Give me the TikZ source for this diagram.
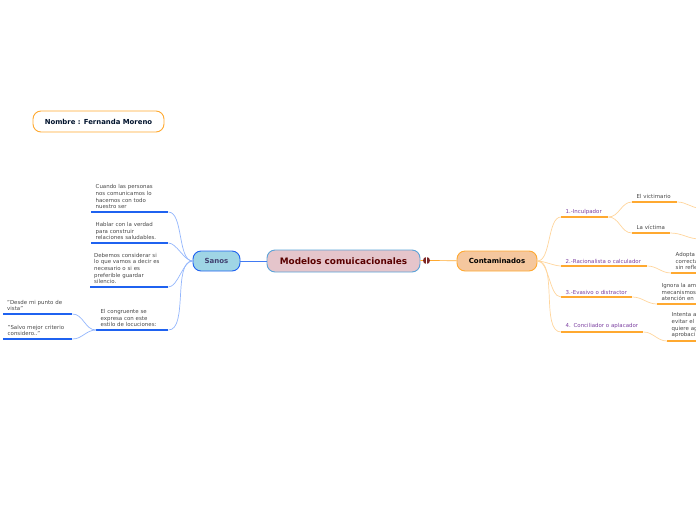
\documentclass[tikz,border=0pt]{standalone}
\usepackage{fontspec}
\setmainfont{DejaVu Sans}
\definecolor{bluedark}{HTML}{1F62F0}
\definecolor{bluelight}{HTML}{93B6FC}
\definecolor{orangedark}{HTML}{FFA930}
\definecolor{orangelight}{HTML}{FFD59C}
\definecolor{purpletxt}{HTML}{7B3FA0}
\definecolor{sanosfill}{HTML}{9FD5E5}
\definecolor{contafill}{HTML}{F5C79E}
\definecolor{centralfill}{HTML}{E5C5CB}
\definecolor{centralline}{HTML}{5BA3D8}
\tikzset{
  mainbox/.style={rectangle,rounded corners=8pt,line width=0.9pt,inner sep=0pt},
  leaf/.style={anchor=south west,align=left,inner xsep=4.5pt,inner ysep=3pt,text=black!72,
    font=\fontsize{5.45}{6.6}\selectfont},
  blueline/.style={draw=bluedark,line width=1.3pt},
  orangeline/.style={draw=orangedark,line width=1.3pt},
  bluecurve/.style={draw=bluelight,line width=0.7pt},
  orangecurve/.style={draw=orangelight,line width=0.7pt}
}
\begin{document}
\begin{tikzpicture}[x=1pt,y=-1pt]
\path[use as bounding box,clip] (0,0) rectangle (696,520);

\node (nombre) at (98.5,121.5) [mainbox,draw=orangedark,fill=white,minimum width=131pt,minimum height=21pt,
    text=green!30!blue!25!black,font=\bfseries\fontsize{6.9}{8}\selectfont] {Nombre : Fernanda Moreno};

\node (central) at (343.5,261) [mainbox,draw=centralline,fill=centralfill,minimum width=153pt,minimum height=22pt,
    text=red!35!black,font=\bfseries\fontsize{8.9}{10}\selectfont] {Modelos comuicacionales};
\node (sanos) at (216.5,261) [mainbox,draw=bluedark,fill=sanosfill,minimum width=47pt,minimum height=20pt,
    text=blue!25!black!75,font=\bfseries\fontsize{7}{8}\selectfont] {Sanos};
\node (conta) at (497,261) [mainbox,draw=orangedark,fill=contafill,minimum width=80pt,minimum height=20pt,
    text=black,font=\bfseries\fontsize{7}{8}\selectfont] {Contaminados};
\node (icono) at (426.5,260.5) [circle,fill=red!40!black!85,minimum size=7pt,inner sep=0pt,
    path picture={\draw[white,line width=0.6pt] (path picture bounding box.south) -- (path picture bounding box.north);}] {};

% lado izquierdo
\node (c1) at (91,212) [leaf,text width=68pt] {Cuando las personas\\nos comunicamos lo\\hacemos  con todo\\nuestro ser};
\node (c2) at (91,243) [leaf,text width=68pt] {Hablar con la verdad\\para construir\\relaciones saludables.};
\node (c3) at (90,287) [leaf,inner xsep=4pt,text width=70pt] {Debemos considerar si\\lo que vamos a decir es\\necesario o si es\\preferible guardar\\silencio.};
\node (c4) at (96,330) [leaf,text width=63pt] {El congruente se\\expresa con este\\estilo de locuciones:};
\node (d1) at (3,314) [leaf,inner xsep=4pt,text width=61pt] {"Desde mi punto de\\vista"};
\node (d2) at (3,339) [leaf,text width=60pt] {"Salvo mejor criterio\\considero.."};

% lado derecho
\node (e1) at (561,217) [leaf,inner ysep=2.4pt,text width=38pt,text=purpletxt] {1.-Inculpador};
\node (e2) at (561,266) [leaf,inner ysep=2.4pt,text width=77pt,text=purpletxt] {2.-Racionalista o calculador};
\node (e3) at (561,297) [leaf,inner ysep=2.4pt,text width=62pt,text=purpletxt] {3.-Evasivo o distractor};
\node (e4) at (561,332) [leaf,text width=73pt,text=purpletxt] {4. Conciliador o aplacador};
\node (f1) at (632,202) [leaf,inner ysep=3.6pt,text width=36pt] {El victimario};
\node (f2) at (632,233) [leaf,inner ysep=3.6pt,text width=29pt] {La víctima};
\node (h1) at (671,273) [leaf,text width=60pt] {Adopta\\correcta\\sin refle};
\node (h2) at (657,304) [leaf,text width=60pt] {Ignora la am\\mecanismos\\atención en};
\node (h3) at (667,341) [leaf,text width=60pt] {Intenta a\\evitar el\\quiere ag\\aprobaci};
\coordinate (g1) at (700,208);
\coordinate (g2) at (700,239);

% subrayados
\foreach \n in {c1,c2,c3,c4,d1,d2}
    \draw[blueline] (\n.south west) -- (\n.south east);
\foreach \n in {e1,e2,e3,e4,f1,f2,h1,h2,h3}
    \draw[orangeline] (\n.south west) -- (\n.south east);

% conectores
\draw[draw=bluedark!85,line width=1pt] (central) -- (sanos);
\draw[orangeline,line width=0.7pt] (icono) -- (conta);
\draw[orangeline,line width=0.7pt] (central) -- (icono);
\foreach \n in {c1,c2,c3,c4}
    \draw[bluecurve] (sanos.west) to[out=180,in=0,looseness=0.7] (\n.south east);
\foreach \n in {d1,d2}
    \draw[bluecurve] (c4.south west) to[out=180,in=0] (\n.south east);
\foreach \n in {e1,e2,e3,e4}
    \draw[orangecurve] (conta.east) to[out=0,in=180,looseness=0.7] (\n.south west);
\foreach \n in {f1,f2}
    \draw[orangecurve] (e1.south east) to[out=0,in=180] (\n.south west);
\draw[orangecurve] (f1.south east) to[out=0,in=180] (g1);
\draw[orangecurve] (f2.south east) to[out=0,in=180] (g2);
\draw[orangecurve] (e2.south east) to[out=0,in=180] (h1.south west);
\draw[orangecurve] (e3.south east) to[out=0,in=180] (h2.south west);
\draw[orangecurve] (e4.south east) to[out=0,in=180] (h3.south west);
\end{tikzpicture}
\end{document}
